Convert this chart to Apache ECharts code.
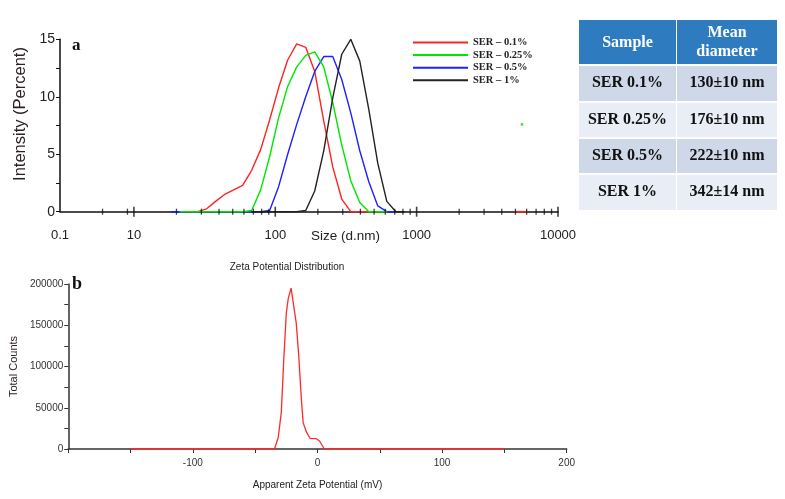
<!DOCTYPE html>
<html>
<head>
<meta charset="utf-8">
<script src="https://cdn.jsdelivr.net/npm/echarts@6/dist/echarts.min.js"></script>
<style>
  html, body { margin: 0; padding: 0; background: #fff; }
  #chart { width: 785px; height: 499px; }
</style>
</head>
<body>
<div id="chart"></div>
<script>
// size distribution (panel a), sizes in d.nm
const sizeBins = [15.69, 18.17, 21.04, 24.36, 28.21, 32.67, 37.84, 43.82, 50.75, 58.77,
  68.06, 78.82, 91.28, 105.7, 122.4, 141.8, 164.2, 190.1, 220.2, 255.0,
  295.3, 342.0, 396.1, 458.7, 531.2, 615.1, 712.4, 825.0];
const ser01 = [null, null, null, 0, 0, 0.25, 0.9, 1.5, 1.9, 2.3,
  3.6, 5.4, 8.0, 10.8, 13.2, 14.6, 14.3, 12.2, 7.9, 3.9,
  1.1, 0, 0, 0, null, null, null, null];
const ser025 = [null, null, 0, 0, 0, 0, 0, 0, 0, 0,
  0.1, 1.9, 4.8, 8.2, 10.9, 12.6, 13.6, 13.9, 12.6, 9.5,
  5.8, 2.7, 0.8, 0, 0, 0, null, null];
const ser05 = [null, 0, 0, 0, 0, 0, 0, 0, 0, 0,
  0, 0, 0.1, 2.2, 5.0, 7.6, 10.0, 12.2, 13.5, 13.5,
  11.5, 8.6, 5.3, 2.6, 0.5, 0, 0, null];
const ser1 = [null, null, null, null, null, null, null, null, null, null,
  0, 0, 0, 0, 0, 0, 0.1, 1.8, 5.3, 9.9,
  13.7, 15.0, 13.1, 8.9, 4.2, 0.9, 0, 0];
const ser01Tail = [[4900, 0], [6100, 0]];
const strayPoint = [[5560, 7.6]];
const seriesNames = ['SER – 0.1%', 'SER – 0.25%', 'SER – 0.5%', 'SER – 1%'];
const seriesColors = ['#ff2222', '#00e600', '#1f1fff', '#222222'];

const sizeTickValues = [3, 10, 100, 1000, 10000];
const sizeTickLabels = ['0.1', '10', '100', '1000', '10000'];
const sizeMinorTicks = [6, 9, 20, 30, 40, 50, 60, 70, 80, 90, 200, 300, 400, 500, 600, 700, 800, 900,
  2000, 3000, 4000, 5000, 6000, 7000, 8000, 9000];
const sizeMajorTicks = [10, 100, 1000, 10000];

// zeta potential (panel b)
const zetaMv = [-150, -34.5, -31.5, -29, -27, -25, -23.5, -21.2, -19.5, -17, -15, -13, -11.5, -9, -6, -1, 1.5, 5.5, 150];
const zetaCounts = [0, 0, 14000, 45000, 110000, 165000, 182000, 195000, 178000, 152000, 112000, 62000, 32000, 21000, 13000, 12500, 10000, 0, 0];

// table
const tableHeader = ['Sample', 'Mean\ndiameter'];
const sampleNames = ['SER 0.1%', 'SER 0.25%', 'SER 0.5%', 'SER 1%'];
const meanDiameters = ['130±10 nm', '176±10 nm', '222±10 nm', '342±14 nm'];

const sans = 'Liberation Sans, Arial, sans-serif';
const serif = 'Liberation Serif, Times New Roman, serif';

const chart = echarts.init(document.getElementById('chart'));

const distSeries = [ser01, ser025, ser05, ser1].map((vals, i) => ({
  name: seriesNames[i],
  type: 'line',
  xAxisIndex: 0,
  yAxisIndex: 0,
  showSymbol: false,
  clip: false,
  z: [2, 4, 3, 5][i],
  lineStyle: { width: 1.4, color: seriesColors[i] },
  itemStyle: { color: seriesColors[i] },
  data: sizeBins.map((s, k) => [s, vals[k] === null ? '-' : vals[k]]),
  silent: true
}));

// table graphics
const tbl = [];
const colX = [579, 677], colW = [97, 100];
const rowY = [66, 103, 139, 175], rowH = [35, 34, 34, 35];
const rowFill = ['#cfd8e8', '#e9edf5', '#cfd8e8', '#e9edf5'];
tableHeader.forEach((t, c) => {
  tbl.push({ type: 'rect', shape: { x: colX[c], y: 20, width: colW[c], height: 44 }, style: { fill: '#2e7cbf' } });
  tbl.push({ type: 'text', x: colX[c] + colW[c] / 2, y: 42.5, style: {
    text: t, align: 'center', verticalAlign: 'middle', fill: '#fff',
    font: 'bold 16px ' + serif, lineHeight: 19 } });
});
sampleNames.forEach((name, r) => {
  [name, meanDiameters[r]].forEach((t, c) => {
    tbl.push({ type: 'rect', shape: { x: colX[c], y: rowY[r], width: colW[c], height: rowH[r] }, style: { fill: rowFill[r] } });
    tbl.push({ type: 'text', x: colX[c] + colW[c] / 2, y: rowY[r] + 16.5, style: {
      text: t, align: 'center', verticalAlign: 'middle', fill: '#111', font: 'bold 16px ' + serif } });
  });
});

const option = {
  animation: false,
  backgroundColor: '#ffffff',
  grid: [
    { left: 60, right: 227, top: 39.3, height: 172.4 },
    { left: 63.3, right: 218.3, top: 284, height: 165 }
  ],
  legend: {
    data: seriesNames,
    orient: 'vertical',
    left: 408,
    top: 31.5,
    itemWidth: 55,
    itemHeight: 2,
    itemGap: 0.6,
    icon: 'rect',
    textStyle: { fontFamily: serif, fontWeight: 'bold', fontSize: 10.5, color: '#222', lineHeight: 12 }
  },
  xAxis: [
    {
      type: 'log', gridIndex: 0, min: 3, max: 10000, logBase: 10,
      axisLine: { lineStyle: { color: '#111', width: 1.5 } },
      axisTick: { show: false },
      splitLine: { show: false },
      axisLabel: {
        showMinLabel: true, showMaxLabel: true, margin: 17,
        fontFamily: sans, fontSize: 13, color: '#222',
        formatter: v => {
          const k = sizeTickValues.findIndex(t => Math.abs(t - v) / t < 1e-6);
          return k < 0 ? '' : sizeTickLabels[k];
        }
      }
    },
    {
      type: 'value', gridIndex: 1, min: -200, max: 200, interval: 50,
      axisLine: { onZero: false, lineStyle: { color: '#333', width: 1.5 } },
      axisTick: { length: 4, lineStyle: { color: '#333' } },
      splitLine: { show: false },
      axisLabel: {
        margin: 9, fontFamily: sans, fontSize: 10, color: '#333',
        formatter: v => (v % 100 === 0 && v !== -200) ? String(v) : ''
      },
      name: 'Apparent Zeta Potential (mV)', nameLocation: 'middle', nameGap: 31,
      nameTextStyle: { fontFamily: sans, fontSize: 10, color: '#222' }
    }
  ],
  yAxis: [
    {
      type: 'value', gridIndex: 0, min: 0, max: 15, interval: 2.5,
      axisLine: { show: true, onZero: false, lineStyle: { color: '#111', width: 1.5 } },
      axisTick: { length: 4, lineStyle: { color: '#111' } },
      splitLine: { show: false },
      axisLabel: {
        margin: 5, fontFamily: sans, fontSize: 14, color: '#222',
        formatter: v => (v % 5 === 0) ? String(v) : ''
      }
    },
    {
      type: 'value', gridIndex: 1, min: 0, max: 200000, interval: 25000,
      axisLine: { show: true, onZero: false, lineStyle: { color: '#333', width: 1.5 } },
      axisTick: { length: 4, lineStyle: { color: '#333' } },
      splitLine: { show: false },
      axisLabel: {
        margin: 5, fontFamily: sans, fontSize: 10, color: '#333',
        formatter: v => (v % 50000 === 0) ? String(v) : ''
      },
      name: 'Total Counts', nameLocation: 'middle', nameGap: 48,
      nameTextStyle: { fontFamily: sans, fontSize: 11, color: '#2a1f1f' }
    }
  ],
  series: distSeries.concat([
    {
      name: 'tail', type: 'line', xAxisIndex: 0, yAxisIndex: 0, showSymbol: false, clip: false, z: 6,
      lineStyle: { width: 1.6, color: seriesColors[0] }, data: ser01Tail, silent: true
    },
    {
      name: 'stray', type: 'scatter', xAxisIndex: 0, yAxisIndex: 0, symbol: 'rect', symbolSize: 2.5,
      itemStyle: { color: seriesColors[1] }, data: strayPoint, silent: true
    },
    {
      name: 'minorTicks', type: 'scatter', xAxisIndex: 0, yAxisIndex: 0, symbol: 'rect', symbolSize: [1.3, 6],
      clip: false, z: 7, itemStyle: { color: '#111' }, data: sizeMinorTicks.map(v => [v, 0]), silent: true
    },
    {
      name: 'majorTicks', type: 'scatter', xAxisIndex: 0, yAxisIndex: 0, symbol: 'rect', symbolSize: [1.6, 10],
      clip: false, z: 7, itemStyle: { color: '#111' }, data: sizeMajorTicks.map(v => [v, 0]), silent: true
    },
    {
      name: 'Zeta', type: 'line', xAxisIndex: 1, yAxisIndex: 1, showSymbol: false, clip: false,
      lineStyle: { width: 1.3, color: '#ff2a2a' },
      data: zetaMv.map((m, i) => [m, zetaCounts[i]]), silent: true
    }
  ]),
  graphic: [
    { type: 'text', x: 72, y: 37, style: { text: 'a', font: 'bold 17px ' + serif, fill: '#111' } },
    { type: 'text', x: 72, y: 275, style: { text: 'b', font: 'bold 18px ' + serif, fill: '#111' } },
    { type: 'text', x: 311, y: 236, style: { text: 'Size (d.nm)', font: '13.5px ' + sans, fill: '#222', verticalAlign: 'middle' } },
    { type: 'text', x: 20, y: 114, rotation: Math.PI / 2, style: {
      text: 'Intensity (Percent)', font: '16.5px ' + sans, fill: '#2a2222', align: 'center', verticalAlign: 'middle' } },
    { type: 'text', x: 287, y: 267, style: {
      text: 'Zeta Potential Distribution', font: '10px ' + sans, fill: '#222', align: 'center', verticalAlign: 'middle' } },
    { type: 'group', children: tbl }
  ]
};

chart.setOption(option);
</script>
</body>
</html>
